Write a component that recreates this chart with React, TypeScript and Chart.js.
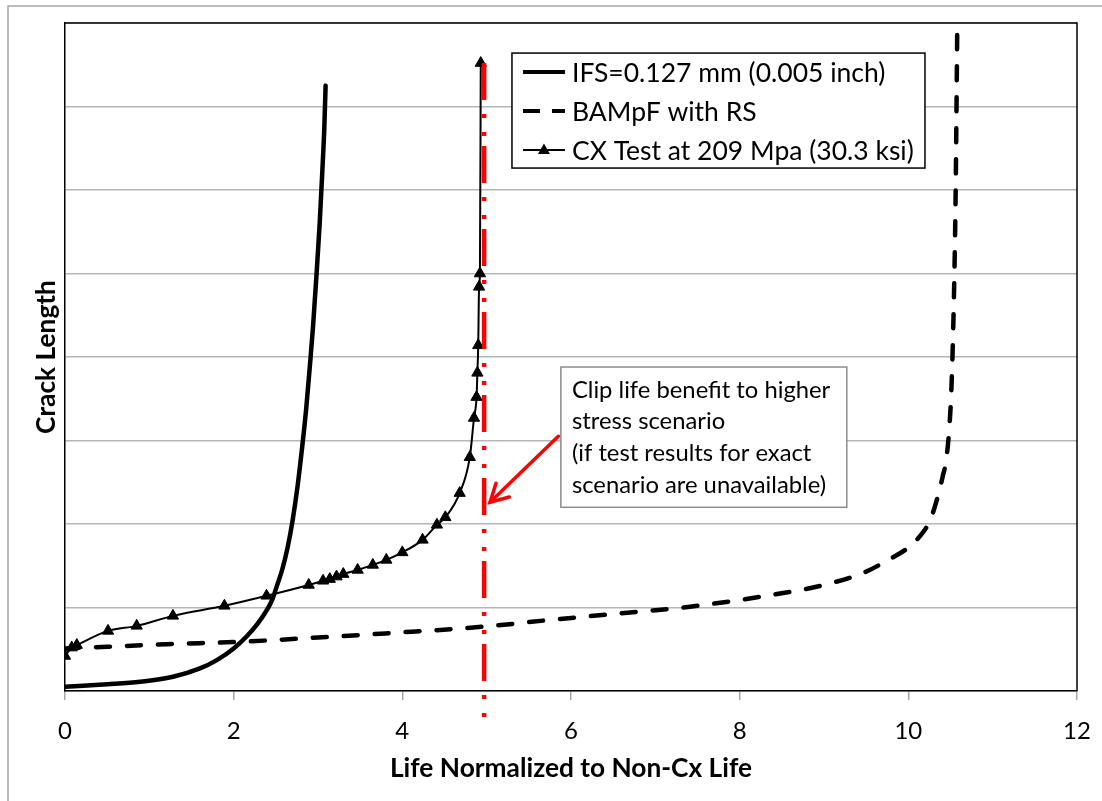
import React, { useEffect, useRef } from 'react';
import { Chart, registerables } from 'chart.js';

Chart.register(...registerables);

// ---------- data ----------
const ifsX = [0, 0.5, 0.89, 1.28, 1.6, 1.8, 2.0, 2.15, 2.28, 2.4, 2.46, 2.5, 2.58, 2.64, 2.7, 2.76, 2.81, 2.86, 2.9, 2.94, 2.98, 3.02, 3.05, 3.075, 3.09];
const ifsY = [0.05, 0.08, 0.11, 0.17, 0.27, 0.37, 0.51, 0.65, 0.8, 0.98, 1.1, 1.22, 1.47, 1.72, 2.05, 2.47, 2.9, 3.38, 3.85, 4.35, 4.95, 5.6, 6.2, 6.75, 7.25];

const bampfX = [0, 0.5, 1.2, 2.1, 3.0, 3.8, 4.96, 5.74, 6.58, 7.41, 8.25, 9.0, 9.5, 9.78, 9.95, 10.06, 10.15, 10.22, 10.29, 10.36, 10.41, 10.45, 10.49, 10.51, 10.54, 10.56, 10.58];
const bampfY = [0.51, 0.53, 0.56, 0.59, 0.64, 0.69, 0.77, 0.85, 0.93, 1.01, 1.13, 1.27, 1.43, 1.58, 1.68, 1.77, 1.87, 1.97, 2.13, 2.37, 2.58, 2.77, 3.21, 3.6, 4.68, 5.88, 7.92];

const cxX = [0, 0.08, 0.14, 0.51, 0.85, 1.28, 1.89, 2.39, 2.89, 3.06, 3.14, 3.22, 3.3, 3.47, 3.65, 3.81, 4.0, 4.24, 4.41, 4.51, 4.68, 4.8, 4.85, 4.88, 4.89, 4.9, 4.91, 4.92, 4.93];
const cxY = [0.42, 0.52, 0.55, 0.72, 0.78, 0.9, 1.02, 1.14, 1.27, 1.32, 1.34, 1.37, 1.4, 1.45, 1.51, 1.57, 1.66, 1.81, 1.99, 2.08, 2.37, 2.8, 3.27, 3.52, 3.81, 4.14, 4.84, 5.0, 7.52];

const clipX = [4.97, 4.97];
const clipY = [7.52, -0.32];

const seriesLabels = ['IFS=0.127 mm (0.005 inch)', 'BAMpF with RS', 'CX Test at 209 Mpa (30.3 ksi)'];
const noteLines = ['Clip life benefit to higher', 'stress scenario', '(if test results for exact', 'scenario are unavailable)'];
const xTitle = 'Life Normalized to Non-Cx Life';
const yTitle = 'Crack Length';

// annotation anchors (data units)
const legendCorner = { x: 5.3, y: 7.64 };
const noteCorner = { x: 5.88, y: 3.88 };
const noteFar = { x: 9.27, y: 2.2 };
const arrowFrom = { x: 5.85, y: 3.05 };
const arrowTo = { x: 5.04, y: 2.26 };

const FONT = 'Lato, "Open Sans", sans-serif';

const pts = (xs: number[], ys: number[]) => xs.map((x, i) => ({ x, y: ys[i] }));

const decorPlugin = {
  id: 'decor',
  beforeDraw(chart: any) {
    const ctx = chart.ctx;
    ctx.save();
    ctx.strokeStyle = '#a6a6a6';
    ctx.lineWidth = 1.5;
    ctx.beginPath();
    ctx.moveTo(8, 801);
    ctx.lineTo(8, 6);
    ctx.lineTo(1102, 6);
    ctx.stroke();
    ctx.restore();
  },
  afterDatasetsDraw(chart: any) {
    const ctx = chart.ctx;
    const xs = chart.scales.x;
    const ys = chart.scales.y;
    const ca = chart.chartArea;
    ctx.save();
    // plot border top/right
    ctx.strokeStyle = '#000';
    ctx.lineWidth = 1.5;
    ctx.beginPath();
    ctx.moveTo(ca.left, ca.top);
    ctx.lineTo(ca.right, ca.top);
    ctx.lineTo(ca.right, ca.bottom);
    ctx.stroke();

    // legend
    const lx = xs.getPixelForValue(legendCorner.x);
    const ly = ys.getPixelForValue(legendCorner.y);
    const lw = 413;
    const lh = 115;
    ctx.fillStyle = '#fff';
    ctx.fillRect(lx, ly, lw, lh);
    ctx.strokeStyle = '#000';
    ctx.lineWidth = 1.5;
    ctx.strokeRect(lx, ly, lw, lh);
    ctx.font = `26.5px ${FONT}`;
    ctx.textBaseline = 'middle';
    ctx.textAlign = 'left';
    seriesLabels.forEach((lab, i) => {
      const cy = ly + 19 + i * 39;
      const s0 = lx + 11;
      const s1 = lx + 53;
      ctx.strokeStyle = '#000';
      ctx.beginPath();
      if (i === 0) {
        ctx.lineWidth = 4;
        ctx.setLineDash([]);
      } else if (i === 1) {
        ctx.lineWidth = 4;
        ctx.setLineDash([17, 12]);
      } else {
        ctx.lineWidth = 2;
        ctx.setLineDash([]);
      }
      ctx.moveTo(s0, cy);
      ctx.lineTo(s1, cy);
      ctx.stroke();
      ctx.setLineDash([]);
      if (i === 2) {
        const mx = (s0 + s1) / 2;
        ctx.fillStyle = '#000';
        ctx.beginPath();
        ctx.moveTo(mx, cy - 6.5);
        ctx.lineTo(mx + 6, cy + 4);
        ctx.lineTo(mx - 6, cy + 4);
        ctx.closePath();
        ctx.fill();
      }
      ctx.fillStyle = '#000';
      ctx.fillText(lab, lx + 60, cy + 1);
    });

    // note box
    const nx0 = xs.getPixelForValue(noteCorner.x);
    const ny0 = ys.getPixelForValue(noteCorner.y);
    const nx1 = xs.getPixelForValue(noteFar.x);
    const ny1 = ys.getPixelForValue(noteFar.y);
    ctx.fillStyle = '#fff';
    ctx.fillRect(nx0, ny0, nx1 - nx0, ny1 - ny0);
    ctx.strokeStyle = '#8c8c8c';
    ctx.lineWidth = 1.5;
    ctx.strokeRect(nx0, ny0, nx1 - nx0, ny1 - ny0);
    ctx.fillStyle = '#000';
    ctx.font = `23.8px ${FONT}`;
    noteLines.forEach((t, i) => {
      ctx.fillText(t, nx0 + 11, ny0 + 23 + i * 31.7);
    });

    // arrow
    const ax0 = xs.getPixelForValue(arrowFrom.x);
    const ay0 = ys.getPixelForValue(arrowFrom.y);
    const ax1 = xs.getPixelForValue(arrowTo.x);
    const ay1 = ys.getPixelForValue(arrowTo.y);
    ctx.strokeStyle = '#ff0000';
    ctx.lineWidth = 3.5;
    ctx.lineCap = 'round';
    ctx.beginPath();
    ctx.moveTo(ax0, ay0);
    ctx.lineTo(ax1, ay1);
    ctx.stroke();
    const ang = Math.atan2(ay1 - ay0, ax1 - ax0);
    const L = 20;
    const spread = 0.5;
    ctx.beginPath();
    ctx.moveTo(ax1 - L * Math.cos(ang - spread), ay1 - L * Math.sin(ang - spread));
    ctx.lineTo(ax1, ay1);
    ctx.lineTo(ax1 - L * Math.cos(ang + spread), ay1 - L * Math.sin(ang + spread));
    ctx.stroke();
    ctx.restore();
  },
};

export default function App() {
  const ref = useRef<HTMLCanvasElement | null>(null);
  useEffect(() => {
    if (!ref.current) return;
    const chart = new Chart(ref.current, {
      type: 'line',
      data: {
        datasets: [
          {
            label: 'clip',
            data: pts(clipX, clipY),
            borderColor: '#ff0000',
            borderWidth: 4.5,
            borderDash: [37, 14, 4, 14, 4, 10],
            pointRadius: 0,
            tension: 0,
            clip: false as any,
          },
          {
            label: seriesLabels[2],
            data: pts(cxX, cxY),
            borderColor: '#000',
            backgroundColor: '#000',
            borderWidth: 2,
            pointStyle: 'triangle',
            pointRadius: 6.5,
            pointBorderWidth: 1,
            pointBackgroundColor: '#000',
            cubicInterpolationMode: 'monotone',
          },
          {
            label: seriesLabels[0],
            data: pts(ifsX, ifsY),
            borderColor: '#000',
            borderWidth: 4.5,
            pointRadius: 0,
            cubicInterpolationMode: 'monotone',
            borderCapStyle: 'round',
          },
          {
            label: seriesLabels[1],
            data: pts(bampfX, bampfY),
            borderColor: '#000',
            borderWidth: 4.5,
            borderDash: [14, 17],
            borderCapStyle: 'round',
            pointRadius: 0,
            cubicInterpolationMode: 'monotone',
          },
        ],
      },
      options: {
        animation: false,
        responsive: false,
        events: [],
        layout: { padding: { left: 10, top: 23, right: 25, bottom: 7 } },
        plugins: { legend: { display: false }, tooltip: { enabled: false } },
        scales: {
          x: {
            type: 'linear',
            min: 0,
            max: 12,
            ticks: {
              stepSize: 2,
              color: '#000',
              padding: 17,
              font: { family: FONT, size: 24 },
              maxRotation: 0,
            },
            grid: { drawOnChartArea: false, drawTicks: true, tickLength: 9, tickColor: '#a6a6a6', lineWidth: 1.5 },
            border: { color: '#000', width: 1.5 },
            title: {
              display: true,
              text: xTitle,
              color: '#000',
              font: { family: FONT, size: 26.3, weight: 'bold' },
              padding: { top: 0, bottom: 9.2 },
            },
            afterFit: (s: any) => {
              s.height = 103;
              s.paddingLeft = 0;
              s.paddingRight = 0;
            },
          },
          y: {
            type: 'linear',
            min: 0,
            max: 8,
            ticks: { stepSize: 1, display: false },
            grid: { color: '#b5b5b5', lineWidth: 1.5, drawTicks: false },
            border: { color: '#000', width: 1.5 },
            title: {
              display: true,
              text: yTitle,
              color: '#000',
              font: { family: FONT, size: 26.3, weight: 'bold' },
              padding: { top: 21.2, bottom: 0 },
            },
            afterFit: (s: any) => { s.width = 55; },
          },
        },
      },
      plugins: [decorPlugin],
    } as any);
    return () => chart.destroy();
  }, []);
  return (
    <div style={{ position: 'absolute', left: 0, top: 0, width: 1102, height: 801, background: '#fff' }}>
      <canvas ref={ref} width={1102} height={801} style={{ display: 'block' }} />
    </div>
  );
}
